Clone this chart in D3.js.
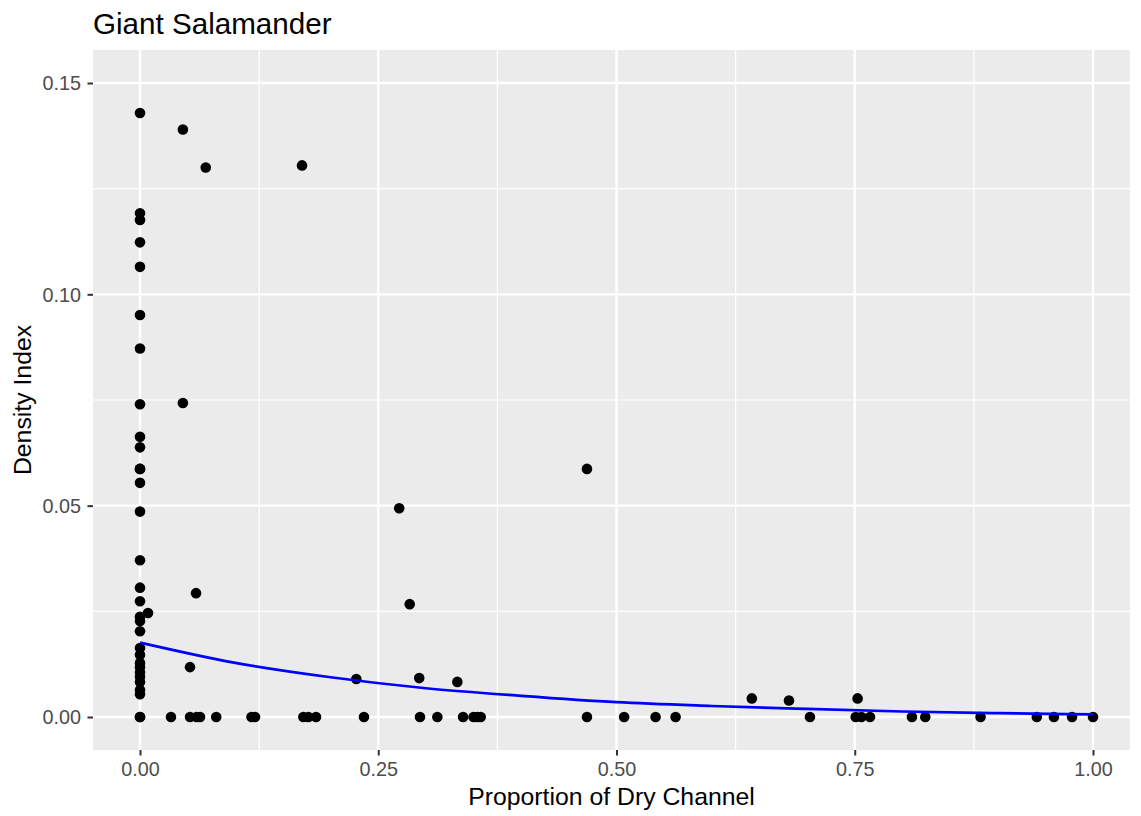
<!DOCTYPE html>
<html>
<head>
<meta charset="utf-8">
<script src="https://cdn.jsdelivr.net/npm/d3@7"></script>
<style>
  html, body { margin: 0; padding: 0; background: #fff; }
  svg { display: block; font-family: "Liberation Sans", Arial, Helvetica, sans-serif; }
</style>
</head>
<body>
<svg id="chart" width="1141" height="816"></svg>
<script>
// ---- data ----
const dryProp = [
  0,0,0,0,0,0,0,0,0,0,0,0,0,0,0,0,0,0,0,0,0,0,0,0,0,0,0,0,0,0,0,
  0.045, 0.069, 0.170, 0.045, 0.469, 0.272, 0.0588, 0.0084, 0.283, 0.0525, 0.227, 0.293, 0.333, 0.642, 0.681, 0.753,
  0.0325, 0.0525, 0.0594, 0.063, 0.080, 0.117, 0.1207, 0.1714, 0.1767, 0.1847, 0.235, 0.2938, 0.312, 0.339, 0.350, 0.354, 0.3575,
  0.469, 0.508, 0.541, 0.562, 0.703, 0.751, 0.757, 0.766, 0.810, 0.824, 0.882, 0.941, 0.959, 0.978, 1.0
];
const densityIndex = [
  0.1429, 0.1192, 0.1176, 0.1123, 0.1065, 0.0951, 0.0872, 0.0740, 0.0663, 0.0638, 0.0587, 0.0587, 0.0554, 0.0486, 0.0371,
  0.0306, 0.0274, 0.0237, 0.0227, 0.0203, 0.0163, 0.0147, 0.0128, 0.0118, 0.0106, 0.0095, 0.0083, 0.0064, 0.0054, 0, 0,
  0.139, 0.130, 0.1305, 0.0743, 0.0587, 0.0494, 0.0293, 0.0246, 0.0267, 0.0118, 0.0090, 0.0092, 0.0083, 0.0044, 0.0039, 0.0044,
  0,0,0,0,0,0,0,0,0,0,0,0,0,0,0,0,0,
  0,0,0,0,0,0,0,0,0,0,0,0,0,0,0,0
];
// fitted curve
const fitX = [0, 0.1, 0.2, 0.3, 0.4, 0.5, 0.6, 0.7, 0.8, 0.9, 1.0];
const fitY = [0.0176, 0.0128, 0.0094, 0.0068, 0.0050, 0.0035, 0.0026, 0.0019, 0.0013, 0.0009, 0.00064];

const xTicks = [0, 0.25, 0.5, 0.75, 1.0];
const xTickLabels = ["0.00", "0.25", "0.50", "0.75", "1.00"];
const yTicks = [0, 0.05, 0.10, 0.15];
const yTickLabels = ["0.00", "0.05", "0.10", "0.15"];
const xMinor = [0.125, 0.375, 0.625, 0.875];
const yMinor = [0.025, 0.075, 0.125];

const titleText = "Giant Salamander";
const xTitle = "Proportion of Dry Channel";
const yTitle = "Density Index";

// ---- layout ----
const panel = { left: 93, top: 50, right: 1130, bottom: 750 };
const x0px = 140, x1px = 1093;   // pixel positions of 0 and 1
const y0px = 717, y15px = 83;    // pixel positions of 0 and 0.15

const x = d3.scaleLinear()
  .domain([(panel.left - x0px) / (x1px - x0px), (panel.right - x0px) / (x1px - x0px)])
  .range([panel.left, panel.right]);
const yPerUnit = (y0px - y15px) / 0.15;
const y = d3.scaleLinear()
  .domain([(y0px - panel.bottom) / yPerUnit, (y0px - panel.top) / yPerUnit])
  .range([panel.bottom, panel.top]);

const svg = d3.select("#chart");

// panel background
svg.append("rect")
  .attr("x", panel.left).attr("y", panel.top)
  .attr("width", panel.right - panel.left).attr("height", panel.bottom - panel.top)
  .attr("fill", "#EBEBEB");

const grid = svg.append("g");
// minor grid
grid.selectAll(".vminor").data(xMinor).join("line")
  .attr("x1", d => x(d)).attr("x2", d => x(d))
  .attr("y1", panel.top).attr("y2", panel.bottom)
  .attr("stroke", "#fff").attr("stroke-width", 1.2);
grid.selectAll(".hminor").data(yMinor).join("line")
  .attr("class", "hminor")
  .attr("y1", d => y(d)).attr("y2", d => y(d))
  .attr("x1", panel.left).attr("x2", panel.right)
  .attr("stroke", "#fff").attr("stroke-width", 1.2);
// major grid
grid.selectAll(".vmajor").data(xTicks).join("line")
  .attr("class", "vmajor")
  .attr("x1", d => x(d)).attr("x2", d => x(d))
  .attr("y1", panel.top).attr("y2", panel.bottom)
  .attr("stroke", "#fff").attr("stroke-width", 2.4);
grid.selectAll(".hmajor").data(yTicks).join("line")
  .attr("class", "hmajor")
  .attr("y1", d => y(d)).attr("y2", d => y(d))
  .attr("x1", panel.left).attr("x2", panel.right)
  .attr("stroke", "#fff").attr("stroke-width", 2.4);

// points
const pts = dryProp.map((d, i) => ({ x: d, y: densityIndex[i] }));
svg.append("g").selectAll("circle").data(pts).join("circle")
  .attr("cx", d => x(d.x)).attr("cy", d => y(d.y))
  .attr("r", 5.3).attr("fill", "#000");

// fitted line
const fitPts = fitX.map((d, i) => [d, fitY[i]]);
svg.append("path")
  .datum(fitPts)
  .attr("d", d3.line().x(d => x(d[0])).y(d => y(d[1])).curve(d3.curveMonotoneX))
  .attr("fill", "none").attr("stroke", "#0000FF").attr("stroke-width", 2.7);

// axes
const xAxis = d3.axisBottom(x).tickValues(xTicks)
  .tickFormat((d, i) => xTickLabels[i]).tickSize(5.5).tickPadding(6);
const gx = svg.append("g").attr("transform", `translate(0,${panel.bottom})`).call(xAxis);
gx.select(".domain").remove();
gx.selectAll(".tick line").attr("stroke", "#333333").attr("stroke-width", 2);
gx.selectAll(".tick text").attr("fill", "#4D4D4D").style("font-size", "19.8px")
  .attr("font-family", null).attr("dy", null).attr("y", 26);

const yAxis = d3.axisLeft(y).tickValues(yTicks)
  .tickFormat((d, i) => yTickLabels[i]).tickSize(5.5).tickPadding(6);
const gy = svg.append("g").attr("transform", `translate(${panel.left},0)`).call(yAxis);
gy.select(".domain").remove();
gy.selectAll(".tick line").attr("stroke", "#333333").attr("stroke-width", 2);
gy.selectAll(".tick text").attr("fill", "#4D4D4D").style("font-size", "19.8px")
  .attr("font-family", null).attr("x", -12).attr("dy", "0.35em");

// titles
svg.append("text").attr("x", 93).attr("y", 33.5)
  .style("font-size", "29.6px").attr("fill", "#000").text(titleText);
svg.append("text").attr("x", (panel.left + panel.right) / 2).attr("y", 805)
  .attr("text-anchor", "middle").style("font-size", "24.8px").attr("fill", "#000").text(xTitle);
svg.append("text")
  .attr("transform", `translate(31,${(panel.top + panel.bottom) / 2}) rotate(-90)`)
  .attr("text-anchor", "middle").style("font-size", "24.8px").attr("fill", "#000").text(yTitle);
</script>
</body>
</html>
